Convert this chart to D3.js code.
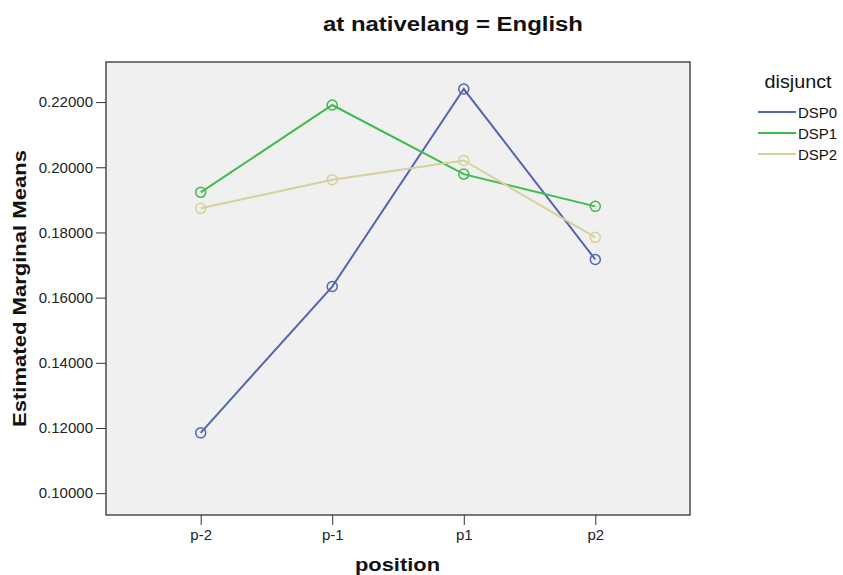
<!DOCTYPE html>
<html><head><meta charset="utf-8">
<script src="https://cdn.jsdelivr.net/npm/d3@7"></script>
<style>body{margin:0;background:#fff;} svg{display:block;font-family:"Liberation Sans",Arial,sans-serif;}</style>
</head><body><svg id="c" width="843" height="575"></svg>
<script>
const positions = ["p-2","p-1","p1","p2"];
const seriesNames = ["DSP0","DSP1","DSP2"];
const dsp0 = [0.1185,0.1634,0.2240,0.1717];
const dsp1 = [0.1923,0.2191,0.1979,0.1880];
const dsp2 = [0.1874,0.1962,0.2021,0.1785];
const yTicks = [0.10,0.12,0.14,0.16,0.18,0.20,0.22];
const colors = ["#5465b0","#3fbb4c","#d6d09c"];

const svg = d3.select("#c");
const L=106,R=690,T=62,B=515;
const x = d3.scalePoint().domain(positions).range([L,R]).padding(0.72);
const y = d3.scaleLinear().domain([0.0933,0.2323]).range([B,T]);

svg.append("rect").attr("x",L).attr("y",T).attr("width",R-L).attr("height",B-T)
  .attr("fill","#f0f0f0").attr("stroke","#333").attr("stroke-width",1.3);

const ya = svg.append("g").attr("transform",`translate(${L},0)`)
  .call(d3.axisLeft(y).tickValues(yTicks).tickFormat(d3.format(".5f")).tickSize(10).tickPadding(3).tickSizeOuter(0));
ya.select(".domain").remove();
ya.selectAll("text").attr("font-size",15).attr("fill","#222").attr("font-family","Liberation Sans, Arial");
ya.selectAll("line").attr("stroke","#333");

const xa = svg.append("g").attr("transform",`translate(0,${B})`)
  .call(d3.axisBottom(x).tickSize(10).tickSizeOuter(0));
xa.select(".domain").remove();
xa.selectAll("text").attr("font-size",15).attr("fill","#222").attr("y",25).attr("dy",0).attr("font-family","Liberation Sans, Arial");
xa.selectAll("line").attr("stroke","#333");

const data = [dsp0,dsp1,dsp2];
const line = d3.line().x((d,i)=>x(positions[i])).y(d=>y(d));
data.forEach((vals,k)=>{
  svg.append("path").datum(vals).attr("d",line).attr("fill","none")
    .attr("stroke",colors[k]).attr("stroke-width",2);
  svg.selectAll(null).data(vals).enter().append("circle")
    .attr("cx",(d,i)=>x(positions[i])).attr("cy",d=>y(d)).attr("r",5)
    .attr("fill","none").attr("stroke",colors[k]).attr("stroke-width",1.5);
});

svg.append("text").attr("x",453).attr("y",31).attr("text-anchor","middle")
  .attr("font-size",20).attr("font-weight","bold").attr("fill","#111")
  .attr("textLength",260).attr("lengthAdjust","spacingAndGlyphs").text("at nativelang = English");
svg.append("text").attr("transform","translate(26,288.5) rotate(-90)").attr("text-anchor","middle")
  .attr("font-size",19).attr("font-weight","bold").attr("fill","#111")
  .attr("textLength",277).attr("lengthAdjust","spacingAndGlyphs").text("Estimated Marginal Means");
svg.append("text").attr("x",397.5).attr("y",571).attr("text-anchor","middle")
  .attr("font-size",19).attr("font-weight","bold").attr("fill","#111")
  .attr("textLength",85).attr("lengthAdjust","spacingAndGlyphs").text("position");

svg.append("text").attr("x",798).attr("y",88).attr("text-anchor","middle")
  .attr("font-size",18).attr("fill","#111")
  .attr("textLength",67).attr("lengthAdjust","spacingAndGlyphs").text("disjunct");
seriesNames.forEach((n,k)=>{
  const yy = 112 + k*21;
  svg.append("line").attr("x1",758).attr("x2",796).attr("y1",yy).attr("y2",yy)
    .attr("stroke",colors[k]).attr("stroke-width",2);
  svg.append("text").attr("x",798).attr("y",yy+5.5).attr("font-size",15).attr("fill","#111").text(n);
});
</script></body></html>
